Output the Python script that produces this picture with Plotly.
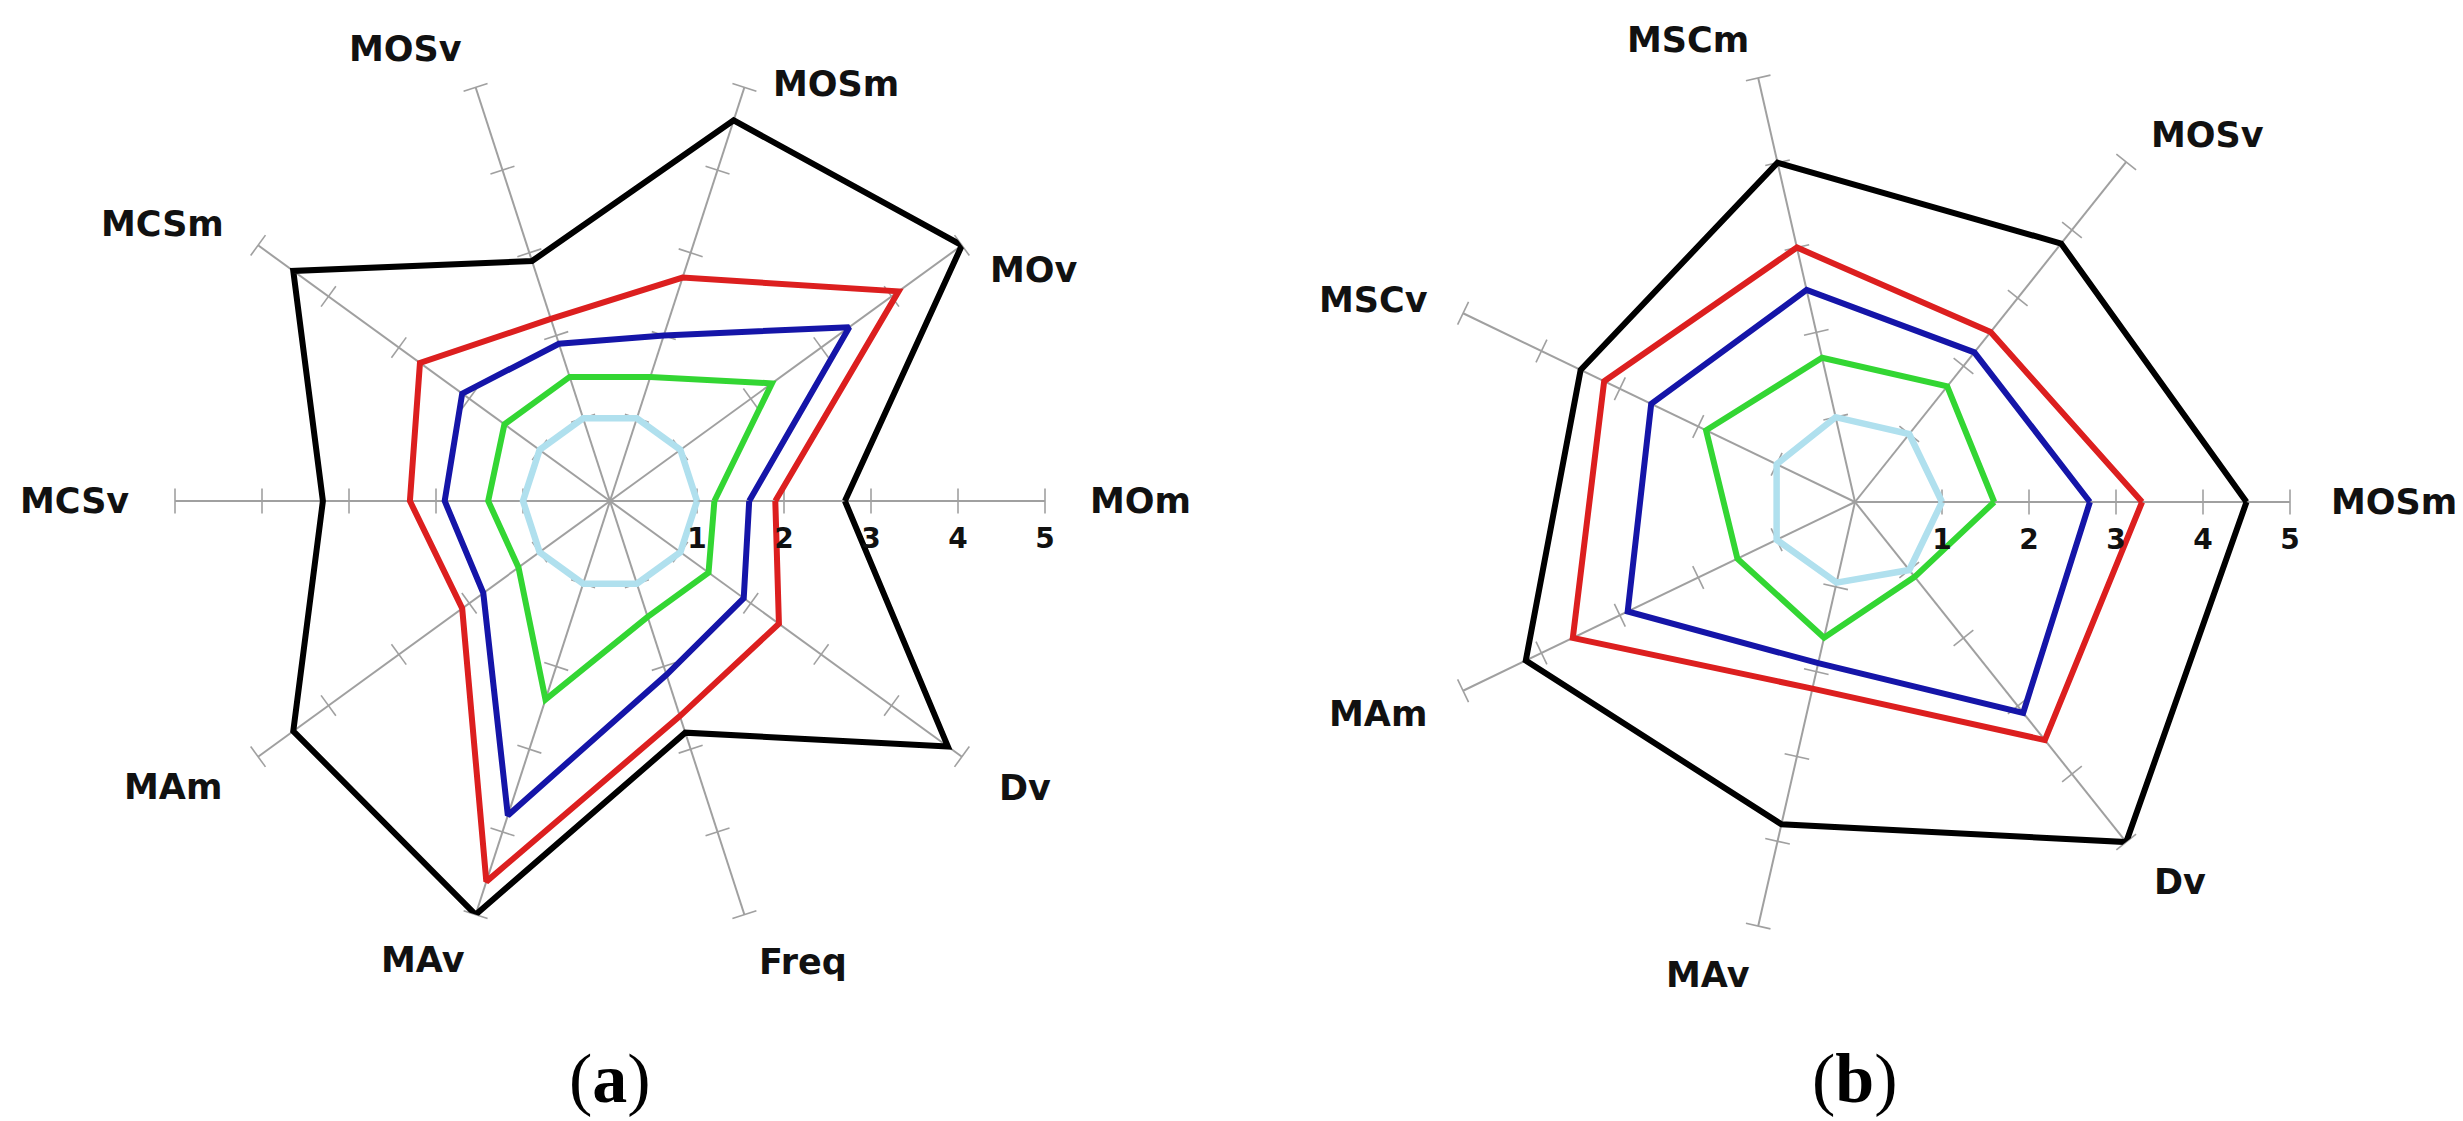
import math
import plotly.graph_objects as go

# ---------------- data ----------------
cats_a = ["MOm", "MOv", "MOSm", "MOSv", "MCSm", "MCSv", "MAm", "MAv", "Freq", "Dv"]
a_black = [2.7, 5.0, 4.6, 2.9, 4.5, 3.3, 4.5, 5.0, 2.8, 4.8]
a_red   = [1.9, 4.1, 2.7, 2.2, 2.7, 2.3, 2.1, 4.6, 2.6, 2.4]
a_blue  = [1.6, 3.4, 2.0, 1.9, 2.1, 1.9, 1.8, 3.8, 2.1, 1.9]
a_green = [1.2, 2.3, 1.5, 1.5, 1.5, 1.4, 1.3, 2.4, 1.4, 1.4]
a_light = [1.0, 1.0, 1.0, 1.0, 1.0, 1.0, 1.0, 1.0, 1.0, 1.0]

cats_b = ["MOSm", "MOSv", "MSCm", "MSCv", "MAm", "MAv", "Dv"]
b_black = [4.5, 3.8, 4.0, 3.5, 4.2, 3.8, 5.0]
b_red   = [3.3, 2.5, 3.0, 3.2, 3.6, 2.2, 3.5]
b_blue  = [2.7, 2.2, 2.5, 2.6, 2.9, 1.9, 3.1]
b_green = [1.6, 1.7, 1.7, 1.9, 1.5, 1.6, 1.1]
b_light = [1.0, 1.0, 1.0, 1.0, 1.0, 0.95, 1.0]

tick_vals = [1, 2, 3, 4, 5]
panel_labels = ["(<b>a</b>)", "(<b>b</b>)"]

# ---------------- styles / layout ----------------
W, H = 2463, 1121
R5 = 435
UNIT = R5 / 5.0
centers = [(602, 493), (1847, 494)]
series_colors = ["#b0e0ee", "#33d633", "#1515a8", "#dc1f1f", "#000000"]
series_widths = [6.5, 6, 6, 6, 6]
GRID = "#a0a0a0"
LABEL_FONT = dict(family="DejaVu Sans", size=35, color="#111", weight="bold")

# where the category labels sit (radius in axis units, angle in degrees)
label_pos_a = [(6.1, 0), (5.55, 28.6), (5.45, 61.6), (5.7, 114.3), (6.05, 148.2),
               (6.15, 180), (6.0, 213.2), (5.7, 247.8), (5.75, 292.7), (5.8, 325.4)]
label_pos_b = [(6.2, 0), (5.85, 46.1), (5.65, 109.8), (6.0, 157.2),
               (6.0, 204.0), (5.7, 252.7), (5.75, 310.5)]

fig = go.Figure()


def closed(vals, cats):
    return list(vals) + [vals[0]], list(cats) + [cats[0]]


def add_panel(sub, center, cats, series, label_pos):
    n = len(cats)
    # tick marks on every spoke
    rr, tt, ang = [], [], []
    for k, c in enumerate(cats):
        for v in tick_vals:
            rr.append(v)
            tt.append(c)
            ang.append(-360.0 * k / n)
    fig.add_trace(go.Scatterpolar(
        r=rr, theta=tt, mode="markers", subplot=sub,
        marker=dict(symbol="line-ns", size=18, angle=ang,
                    line=dict(width=1.6, color=GRID), color=GRID),
        hoverinfo="skip", showlegend=False))
    for vals, col, lw in zip(series, series_colors, series_widths):
        r, t = closed(vals, cats)
        fig.add_trace(go.Scatterpolar(
            r=r, theta=t, mode="lines", subplot=sub,
            line=dict(color=col, width=lw),
            hoverinfo="skip", showlegend=False))
    # category labels
    cx, cy = center
    for name, (lr, la) in zip(cats, label_pos):
        px = cx + lr * UNIT * math.cos(math.radians(la))
        py = cy - lr * UNIT * math.sin(math.radians(la))
        fig.add_annotation(
            x=px / W, y=(H - py) / H, xref="paper", yref="paper",
            text=name, showarrow=False, xanchor="center", yanchor="middle",
            font=LABEL_FONT)


add_panel("polar", centers[0], cats_a, [a_light, a_green, a_blue, a_red, a_black], label_pos_a)
add_panel("polar2", centers[1], cats_b, [b_light, b_green, b_blue, b_red, b_black], label_pos_b)


def domain_for(center):
    cx, cy = center
    yb = H - cy
    return dict(x=[(cx - R5) / W, (cx + R5) / W], y=[(yb - R5) / H, (yb + R5) / H])


def polar_layout(center, cats):
    return dict(
        domain=domain_for(center),
        bgcolor="white",
        radialaxis=dict(
            range=[0, 5], tickvals=tick_vals, ticktext=[str(v) for v in tick_vals],
            showgrid=False, showline=False, ticks="outside", ticklen=13,
            tickcolor="rgba(0,0,0,0)", angle=0, tickangle=0, side="clockwise",
            tickfont=dict(family="DejaVu Sans", size=28, color="#111", weight="bold"),
        ),
        angularaxis=dict(
            type="category", categoryorder="array", categoryarray=cats,
            direction="counterclockwise", rotation=0,
            showgrid=True, gridcolor=GRID, gridwidth=1.6, showline=False,
            ticks="", showticklabels=False,
        ),
    )


fig.update_layout(
    width=W, height=H,
    margin=dict(l=0, r=0, t=0, b=0),
    paper_bgcolor="white", plot_bgcolor="white",
    polar=polar_layout(centers[0], cats_a),
    polar2=polar_layout(centers[1], cats_b),
    showlegend=False,
)

for (cx, _), txt in zip(centers, panel_labels):
    fig.add_annotation(
        x=cx / W, y=(H - 1070) / H, xref="paper", yref="paper",
        text=txt, showarrow=False, xanchor="center", yanchor="middle",
        font=dict(family="Liberation Serif", size=70, color="black"))

fig.write_html("out.html")
